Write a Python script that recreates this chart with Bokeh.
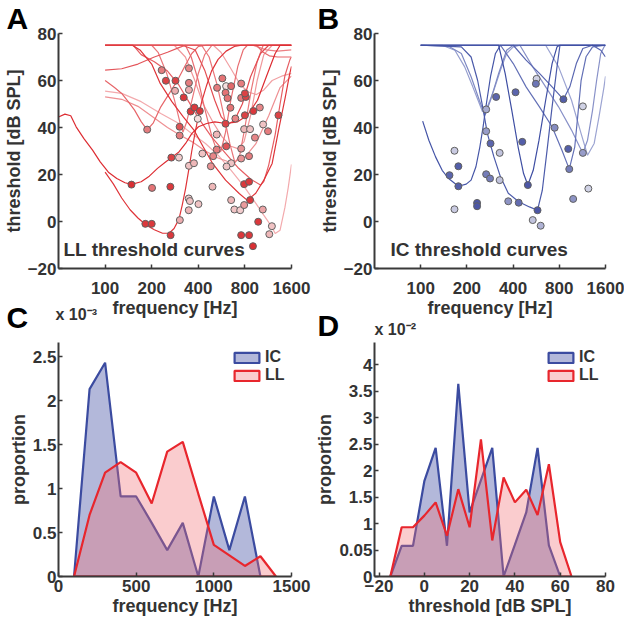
import numpy as np
from bokeh.plotting import figure
from bokeh.models import FixedTicker, Label, Legend, LegendItem, ColumnDataSource, Title
from bokeh.transform import linear_cmap
from bokeh.layouts import gridplot
from bokeh.embed import file_html
from bokeh.resources import INLINE

FONT = "Liberation Sans"
INK = "#333333"

# ---------------- data ----------------
freq_ticks = [100, 200, 400, 800, 1600]
freq_tick_labels = ["100", "200", "400", "800", "1600"]
thr_ticks = [-20, 0, 20, 40, 60, 80]
thr_tick_labels = ["\u221220", "0", "20", "40", "60", "80"]

# LL threshold curves (frequency Hz, threshold dB SPL, weight)
ll_curve_freq = [
    [50, 55, 60, 65, 73, 83, 93, 105, 119, 134.5, 148, 171, 193, 218, 247, 272, 300, 331, 363, 401, 453, 511, 605, 718, 831, 965, 1100, 1255, 1350, 1600],
    [100, 113, 128, 145, 163, 184, 208, 235, 259, 279, 300, 315, 331, 347, 363, 382, 401, 421, 453, 487, 537, 605, 684, 760, 1600],
    [100, 115, 128, 141, 155, 171, 187, 205, 229, 260, 293, 330, 363, 401, 450, 1600],
    [100, 128, 163, 208, 253, 300, 330, 1600],
    [100, 128, 171, 229, 300, 363, 445, 537, 652, 791, 942, 1059, 1195, 1255, 1350, 1450, 1524, 1600],
    [100, 128, 163, 208, 253, 300, 363, 445, 537, 652, 791, 940, 1140, 1350, 1600],
    [100, 152, 171, 208, 253, 300, 347, 401, 487, 600, 720, 874, 1009, 1059, 1140, 1255, 1350, 1450, 1565, 1600],
    [100, 315, 382, 440, 511, 563, 620, 685, 770, 870, 1009, 1140, 1600],
    [100, 280, 330, 380, 430, 500, 570, 650, 720, 790, 870, 960, 1060, 1200, 1600],
    [100, 200, 220, 250, 280, 305, 318, 335, 365, 400, 440, 490, 1600],
    [100, 150, 168, 200, 226, 270, 320, 375, 430, 495, 600, 735, 830, 940, 1060, 1200, 1320, 1460, 1560, 1600],
    [100, 500, 560, 650, 750, 850, 950, 1060, 1200, 1400, 1600],
    [100, 900, 1000, 1100, 1300, 1600],
    [100, 950, 1050, 1150, 1300, 1600],
    [100, 330, 360, 400, 440, 490, 535, 560, 600, 650, 720, 780, 830, 1600],
    [100, 420, 470, 530, 590, 640, 690, 740, 800, 880, 960, 1050, 1600],
]
ll_curve_thr = [
    [44.5, 45.7, 45, 40.3, 35.3, 30.4, 25.4, 21, 18.3, 16.5, 15.8, 16.9, 19.3, 22.6, 25.4, 27.5, 29.6, 33.2, 37.4, 40.3, 41.7, 42.4, 41.7, 42.4, 45.2, 51.6, 61.6, 71.5, 75, 75],
    [21, 16, 10, 5, 1.5, -1.5, -3.5, -5, -5, -3, 1, 7, 14, 22, 30, 38, 45, 51, 58, 64, 69, 72.5, 74.5, 75, 75],
    [60, 57, 54.5, 51, 47.4, 42.5, 39, 42, 48.8, 54.5, 60, 66.5, 71.5, 74.5, 75, 75],
    [64.4, 65, 67, 70, 72, 74, 75, 75],
    [55.5, 54.5, 51, 46, 41.7, 37.4, 33.2, 28.2, 21.8, 14.8, 7.7, 2.7, -2.3, -5.1, -3.7, 5.9, 14.4, 24.3],
    [53, 52, 49, 44, 40, 37, 34, 30, 27, 25, 27, 33, 45, 57, 62],
    [75, 75, 71, 68, 64, 58, 51, 44, 36, 29, 23, 18, 15.5, 17, 24, 37, 50, 62, 69, 70],
    [75, 75, 73, 64.4, 51.6, 44.5, 41.4, 43, 50, 61.6, 71.5, 75, 75],
    [75, 75, 70, 60, 50, 42, 36, 32, 31, 34, 45, 60, 71, 75, 75],
    [75, 75, 72, 63, 52, 42, 38, 42, 52, 63, 71, 75, 75],
    [75, 75, 73, 67, 59, 51, 44.5, 38.9, 31.8, 24.7, 17.6, 11.9, 9, 12, 17.6, 24.7, 38.9, 53, 63, 66],
    [75, 75, 72, 65, 58, 55, 54, 56, 60, 62, 63],
    [75, 75, 74, 73, 72.5, 73],
    [75, 75, 72, 70.5, 70, 70],
    [75, 75, 70, 60, 48, 36, 29, 30, 38, 52, 66, 73, 75, 75],
    [75, 75, 70, 58, 44, 33, 25, 28, 40, 56, 68, 75, 75],
]
ll_curve_weight = [0.95, 0.9, 0.6, 0.7, 0.2, 0.35, 0.65, 0.75, 0.3, 0.5, 0.9, 0.25, 0.45, 0.6, 0.55, 0.5]

# LL best-frequency / threshold points
ll_pt_freq = [232, 247, 285, 283, 348, 348, 348, 322, 357, 378, 409, 397, 303, 303, 187, 148, 201, 264, 268, 300,
              182, 200, 265, 304, 347, 353, 347, 401, 348, 375, 425, 499, 482, 494, 526, 526, 572, 529, 605, 652,
              600, 618, 645, 600, 606, 652, 609, 694, 652, 684, 746, 757, 757, 811, 800, 800, 791, 864, 757, 757,
              851, 791, 851, 864, 791, 757, 851, 902, 929, 999, 907, 1049, 1128, 1044, 975, 1150, 1195, 1318]
ll_pt_thr = [64.4, 59.9, 59.9, 55.6, 65.2, 59, 56, 52.8, 46.8, 48.5, 47, 43.7, 40.3, 36.6, 39.1, 15.7, 14.3, 14.8, 27.2, 27.2,
             -1, -1, -5.8, 0.6, 9.8, 8.7, 4.8, 7.4, 23.7, 24.8, 28.9, 27.8, 23.5, 14.8, 37, 30.6, 60.9, 56.9, 57.6, 57.6,
             54.8, 52.5, 48.4, 41.6, 32, 24.8, 23.4, 43.8, 9.1, 5.1, 4.8, 58.7, 52.6, 53, 54.5, 45.2, 39.3, 39.3, 31, 26.8,
             27.8, 15.9, 16.9, 9.1, 7, -5.8, -5.8, -10.5, 35.7, 48.5, 47, 41.3, 38.4, 5.1, -0.1, -5.4, -2, 45.2]
ll_pt_weight = [0.55, 0.85, 0.85, 0.3, 0.5, 0.55, 0.3, 0.9, 0.9, 0.9, 0.9, 0.05, 0.75, 0.55, 0.55, 0.95, 0.6, 0.9, 0.85, 0.15,
                0.9, 0.9, 0.9, 0.3, 0.15, 0.2, 0.25, 0.2, 0.2, 0.25, 0.2, 0.5, 0.45, 0.25, 0.25, 0.55, 0.6, 0.55, 0.05, 0.65,
                0.6, 0.6, 0.6, 0.85, 0.75, 0.2, 0.2, 0.5, 0.25, 0.2, 0.15, 0.55, 0.55, 0.85, 0.85, 0.85, 0.25, 0.2, 0.45, 0.45,
                0.55, 0.9, 0.9, 0.9, 0.4, 0.9, 0.9, 0.95, 0.5, 0.5, 0.9, 0.2, 0.55, 0.35, 0.9, 0.25, 0.2, 0.85]

# IC threshold curves
ic_curve_freq = [
    [103, 113, 125, 138, 152, 176, 198, 213, 229, 243, 255, 268, 285, 307, 331, 1600],
    [100, 184, 213, 235, 253, 272, 300, 331, 372, 435, 511, 577, 620, 666, 718, 773, 808, 1600],
    [100, 322, 355, 392, 431, 468, 499, 541, 590, 652, 718, 773, 800, 1600],
    [100, 401, 486, 594, 718, 851, 937, 1033, 1139, 1318, 1490, 1600],
    [100, 331, 401, 486, 594, 718, 831, 929, 1009, 1059, 1110, 1195, 1318, 1600],
    [100, 443, 537, 652, 791, 961, 1085, 1139, 1222, 1318, 1401, 1490, 1565, 1600],
    [100, 652, 791, 961, 1110, 1222, 1350, 1451, 1565, 1600],
    [100, 138, 167, 193.5, 218.5, 241, 253, 272, 300, 331, 363, 401, 443, 1600],
    [100, 152, 184, 213, 241, 262, 285, 322, 363, 401, 1600],
]
ic_curve_thr = [
    [42.7, 34.6, 27.5, 21.8, 18.3, 15, 15.9, 17.6, 23.3, 31.8, 40.3, 50.2, 61.6, 71.5, 75, 75],
    [75, 74.3, 70, 60, 49, 37.4, 27.5, 19, 12, 8.4, 6.2, 4.8, 13.3, 30.4, 48.8, 65.8, 75, 75],
    [75, 75, 63, 47.4, 31.8, 20.4, 15.5, 21.8, 34.6, 51.6, 67.2, 74.3, 75, 75],
    [75, 75, 68.7, 63, 57.3, 52, 57.3, 67.2, 73.6, 75, 72.9, 70],
    [75, 75, 67.2, 57.3, 48.8, 40.3, 30.4, 22.3, 31.8, 46, 60.1, 70.1, 74.3, 75],
    [75, 75, 65.8, 57.3, 48.8, 38.9, 31.8, 29.2, 34.6, 47.4, 60.1, 71.5, 74.3, 75],
    [75, 75, 65.8, 51.6, 37.4, 28.2, 33.2, 44.5, 57.3, 61.8],
    [75, 75, 72.9, 65.8, 57.3, 50.2, 46.7, 48.8, 55.9, 64.4, 71.5, 74.3, 75, 75],
    [75, 74.6, 71.5, 61.6, 51.6, 45.2, 51.6, 63, 72.9, 75, 75],
]
ic_curve_weight = [0.9, 0.85, 0.95, 0.75, 0.7, 0.45, 0.3, 0.35, 0.5]

ic_pt_freq = [166, 154, 176, 176, 166, 233, 233, 267, 267, 267, 283, 285, 310, 327, 327, 372, 435, 415, 459, 499,
              569, 563, 577, 537, 605, 746, 851, 915, 929, 985, 1139, 1139, 1237]
ic_pt_thr = [30.1, 19.7, 23.5, 15, 5.2, 7.9, 6.5, 47.7, 38.4, 20.1, 18.3, 33.2, 53, 29.2, 17.6, 8.6, 8, 55, 33.9, 15.5,
             60.7, 58.6, 4.8, 0.6, -1.8, 39.9, 52, 30.9, 22.3, 9.6, 49, 29.2, 14]
ic_pt_weight = [0.15, 0.8, 0.85, 0.85, 0.15, 0.9, 0.9, 0.35, 0.45, 0.65, 0.65, 0.8, 0.8, 0.2, 0.2, 0.5, 0.75, 0.8, 0.85, 0.9,
                0.1, 0.7, 0.9, 0.2, 0.3, 0.55, 0.85, 0.85, 0.65, 0.5, 0.1, 0.45, 0.1]

# Panel C: best-frequency distributions (x 10^-3)
hist_freq_ticks = [0, 500, 1000, 1500]
hist_freq_tick_labels = ["0", "500", "1000", "1500"]
prop_c_ticks = [0, 0.5, 1, 1.5, 2, 2.5]
prop_c_tick_labels = ["0", "0.5", "1", "1.5", "2", "2.5"]
ic_freq_bins = [100, 200, 300, 400, 500, 600, 700, 800, 900, 1000, 1100, 1200, 1300]
ic_freq_prop = [0, 2.13, 2.43, 0.91, 0.91, 0.61, 0.30, 0.61, 0, 0.91, 0.30, 0.91, 0]
ll_freq_bins = [100, 200, 300, 400, 500, 600, 700, 800, 900, 1000, 1100, 1200, 1300, 1400]
ll_freq_prop = [0, 0.70, 1.18, 1.30, 1.18, 0.83, 1.42, 1.53, 0.94, 0.36, 0.24, 0.12, 0.23, 0]

# Panel D: threshold distributions (x 10^-2)
thr_hist_ticks = [-20, 0, 20, 40, 60, 80]
thr_hist_tick_labels = ["\u221220", "0", "20", "40", "60", "80"]
prop_d_ticks = [0, 0.5, 1, 1.5, 2, 2.5, 3, 3.5, 4]
prop_d_tick_labels = ["0", "0.05", "1", "1.5", "2", "2.5", "3", "3.5", "4"]
ic_thr_bins = [-15, -10, -5, 0, 5, 10, 15, 20, 25, 30, 35, 40, 45, 50, 55, 60]
ic_thr_prop = [0, 0.58, 0.58, 1.80, 2.43, 0.58, 3.64, 1.21, 1.82, 2.43, 0, 0.60, 1.21, 2.43, 0.59, 0]
ll_thr_bins = [-15, -10, -5, 0, 5, 10, 15, 20, 25, 30, 35, 40, 45, 50, 55, 60, 65]
ll_thr_prop = [0, 0.93, 0.93, 1.15, 1.40, 0.77, 1.65, 0.93, 2.59, 0.68, 1.87, 1.40, 1.64, 1.16, 2.12, 0.65, 0]


# ---------------- helpers ----------------
def ramp(c0, c1, n=64):
    return ["#%02x%02x%02x" % tuple(int(round(a + (b - a) * t)) for a, b in zip(c0, c1))
            for t in np.linspace(0, 1, n)]


RED_LINE = ramp((248, 202, 204), (220, 36, 42))
RED_PT = ramp((246, 232, 232), (216, 38, 42))
BLUE_LINE = ramp((200, 204, 232), (55, 72, 160))
BLUE_PT = ramp((224, 224, 236), (60, 72, 158))


def make_fig(w, h, left, right, top, bottom, **kw):
    p = figure(width=w, height=h, min_border_left=left, min_border_right=right,
               min_border_top=top, min_border_bottom=bottom,
               output_backend="svg", toolbar_location=None, **kw)
    p.title.visible = False
    p.xgrid.visible = False
    p.ygrid.visible = False
    p.outline_line_color = None
    p.background_fill_color = "white"
    p.border_fill_color = "white"
    return p


def style_axes(p, xt, xl, yt, yl, ylabel, x_standoff, tick_px=17, lab_px=18):
    p.xaxis.ticker = FixedTicker(ticks=xt)
    p.xaxis.major_label_overrides = {t: l for t, l in zip(xt, xl)}
    p.yaxis.ticker = FixedTicker(ticks=yt)
    p.yaxis.major_label_overrides = {t: l for t, l in zip(yt, yl)}
    p.yaxis.axis_label = ylabel
    for ax in (p.xaxis[0], p.yaxis[0]):
        ax.axis_line_color = "#3a3a3a"
        ax.axis_line_width = 2
        ax.major_tick_line_color = "#3a3a3a"
        ax.major_tick_line_width = 1.5
        ax.major_tick_in = 4
        ax.major_tick_out = 0
        ax.minor_tick_line_color = None
        ax.major_label_text_font = FONT
        ax.major_label_text_font_style = "bold"
        ax.major_label_text_font_size = f"{tick_px}px"
        ax.major_label_text_color = INK
        ax.major_label_text_line_height = 1.0
        ax.axis_label_text_font = FONT
        ax.axis_label_text_font_style = "bold"
        ax.axis_label_text_font_size = f"{lab_px}px"
        ax.axis_label_text_color = INK
        ax.axis_label_text_line_height = 1.0
    p.xaxis.major_label_standoff = x_standoff
    p.yaxis.major_label_standoff = 2
    p.yaxis.axis_label_standoff = 1


def inner_label(p, x, y, text, size):
    p.add_layout(Label(x=x, y=y, x_units="screen", y_units="screen", text=text,
                       text_font=FONT, text_font_size=f"{size}px", text_font_style="bold",
                       text_color=INK))


def side_text(p, where, text, size, offset, standoff, valign, align="left", color=INK):
    p.add_layout(Title(text=text, align=align, offset=offset, standoff=standoff,
                       vertical_align=valign, text_font=FONT, text_font_size=f"{size}px",
                       text_font_style="bold", text_color=color, text_line_height=1.0), where)


def curves_panel(p, cf, ct, cw, pf, pt, pw, line_pal, pt_pal):
    order = np.argsort(cw)
    src = ColumnDataSource(dict(xs=[cf[i] for i in order], ys=[ct[i] for i in order],
                                w=[cw[i] for i in order]))
    p.multi_line("xs", "ys", source=src, line_width=1.2,
                 line_color=linear_cmap("w", line_pal, 0, 1))
    psrc = ColumnDataSource(dict(f=pf, t=pt, w=pw))
    p.scatter("f", "t", source=psrc, size=7, line_color="#606060", line_width=1,
              fill_color=linear_cmap("w", pt_pal, 0, 1))


ROW1_H, ROW2_H = 340, 279
LA = 52   # left border of the left column

# ---------------- panel A ----------------
pA = make_fig(312, ROW1_H, LA, 21, 33, 72, x_axis_type="log", x_range=(50, 1600), y_range=(-20, 80))
curves_panel(pA, ll_curve_freq, ll_curve_thr, ll_curve_weight, ll_pt_freq, ll_pt_thr, ll_pt_weight,
             RED_LINE, RED_PT)
style_axes(pA, freq_ticks, freq_tick_labels, thr_ticks, thr_tick_labels, "threshold [dB SPL]", 13)
inner_label(pA, 5, 9, "LL threshold curves", 19)
side_text(pA, "above", "A", 30, -LA, -3, "bottom", color="black")
side_text(pA, "below", "frequency [Hz]", 18, 0, 3, "top", align="center")
side_text(pA, "below", "C", 30, -LA, -42, "top", color="black")
side_text(pA, "below", "x 10\u207b\u00b3", 16, -3, -32, "top")

# ---------------- panel B ----------------
pB = make_fig(312, ROW1_H, 57, 19, 33, 72, x_axis_type="log", x_range=(50, 1600), y_range=(-20, 80))
curves_panel(pB, ic_curve_freq, ic_curve_thr, ic_curve_weight, ic_pt_freq, ic_pt_thr, ic_pt_weight,
             BLUE_LINE, BLUE_PT)
style_axes(pB, freq_ticks, freq_tick_labels, thr_ticks, thr_tick_labels, "threshold [dB SPL]", 13)
inner_label(pB, 16, 9, "IC threshold curves", 19)
side_text(pB, "above", "B", 30, -57, -3, "bottom", color="black")
side_text(pB, "below", "frequency [Hz]", 18, 0, 3, "top", align="center")
side_text(pB, "below", "D", 30, -57, -26, "top", color="black")
side_text(pB, "below", "x 10\u207b\u00b2", 16, 0, -20, "top")

IC_LINE, IC_FILL = "#3b4ba0", "#4a56a8"
LL_LINE, LL_FILL = "#e8262d", "#f06d72"


def hist_panel(p, icx, icy, llx, lly):
    r1 = p.patch(icx, icy, fill_color=IC_FILL, fill_alpha=0.42, line_color=IC_LINE, line_width=2.2)
    r2 = p.patch(llx, lly, fill_color=LL_FILL, fill_alpha=0.35, line_color=LL_LINE, line_width=2.2)
    leg = Legend(items=[LegendItem(label="IC", renderers=[r1]), LegendItem(label="LL", renderers=[r2])],
                 location="top_right", glyph_width=31, glyph_height=13, label_standoff=3,
                 spacing=-2, padding=6, margin=6, border_line_color=None, background_fill_alpha=0,
                 label_text_font=FONT, label_text_font_style="bold", label_text_font_size="16px",
                 label_text_color=INK, label_height=16, label_text_line_height=1.0)
    p.add_layout(leg)


# ---------------- panel C ----------------
pC = make_fig(312, ROW2_H, LA, 21, 2, 40, x_range=(0, 1500), y_range=(0, 2.66))
hist_panel(pC, ic_freq_bins, ic_freq_prop, ll_freq_bins, ll_freq_prop)
style_axes(pC, hist_freq_ticks, hist_freq_tick_labels, prop_c_ticks, prop_c_tick_labels, "proportion", 3)
side_text(pC, "below", "frequency [Hz]", 18, 0, 3, "top", align="center")

# ---------------- panel D ----------------
pD = make_fig(312, ROW2_H, 57, 19, 2, 40, x_range=(-22, 80), y_range=(0, 4.42))
hist_panel(pD, ic_thr_bins, ic_thr_prop, ll_thr_bins, ll_thr_prop)
style_axes(pD, thr_hist_ticks, thr_hist_tick_labels, prop_d_ticks, prop_d_tick_labels, "proportion", 3)
side_text(pD, "below", "threshold [dB SPL]", 18, 0, 3, "top", align="center")

grid = gridplot([[pA, pB], [pC, pD]], toolbar_location=None)
open("out.html", "w").write(file_html(grid, INLINE))
